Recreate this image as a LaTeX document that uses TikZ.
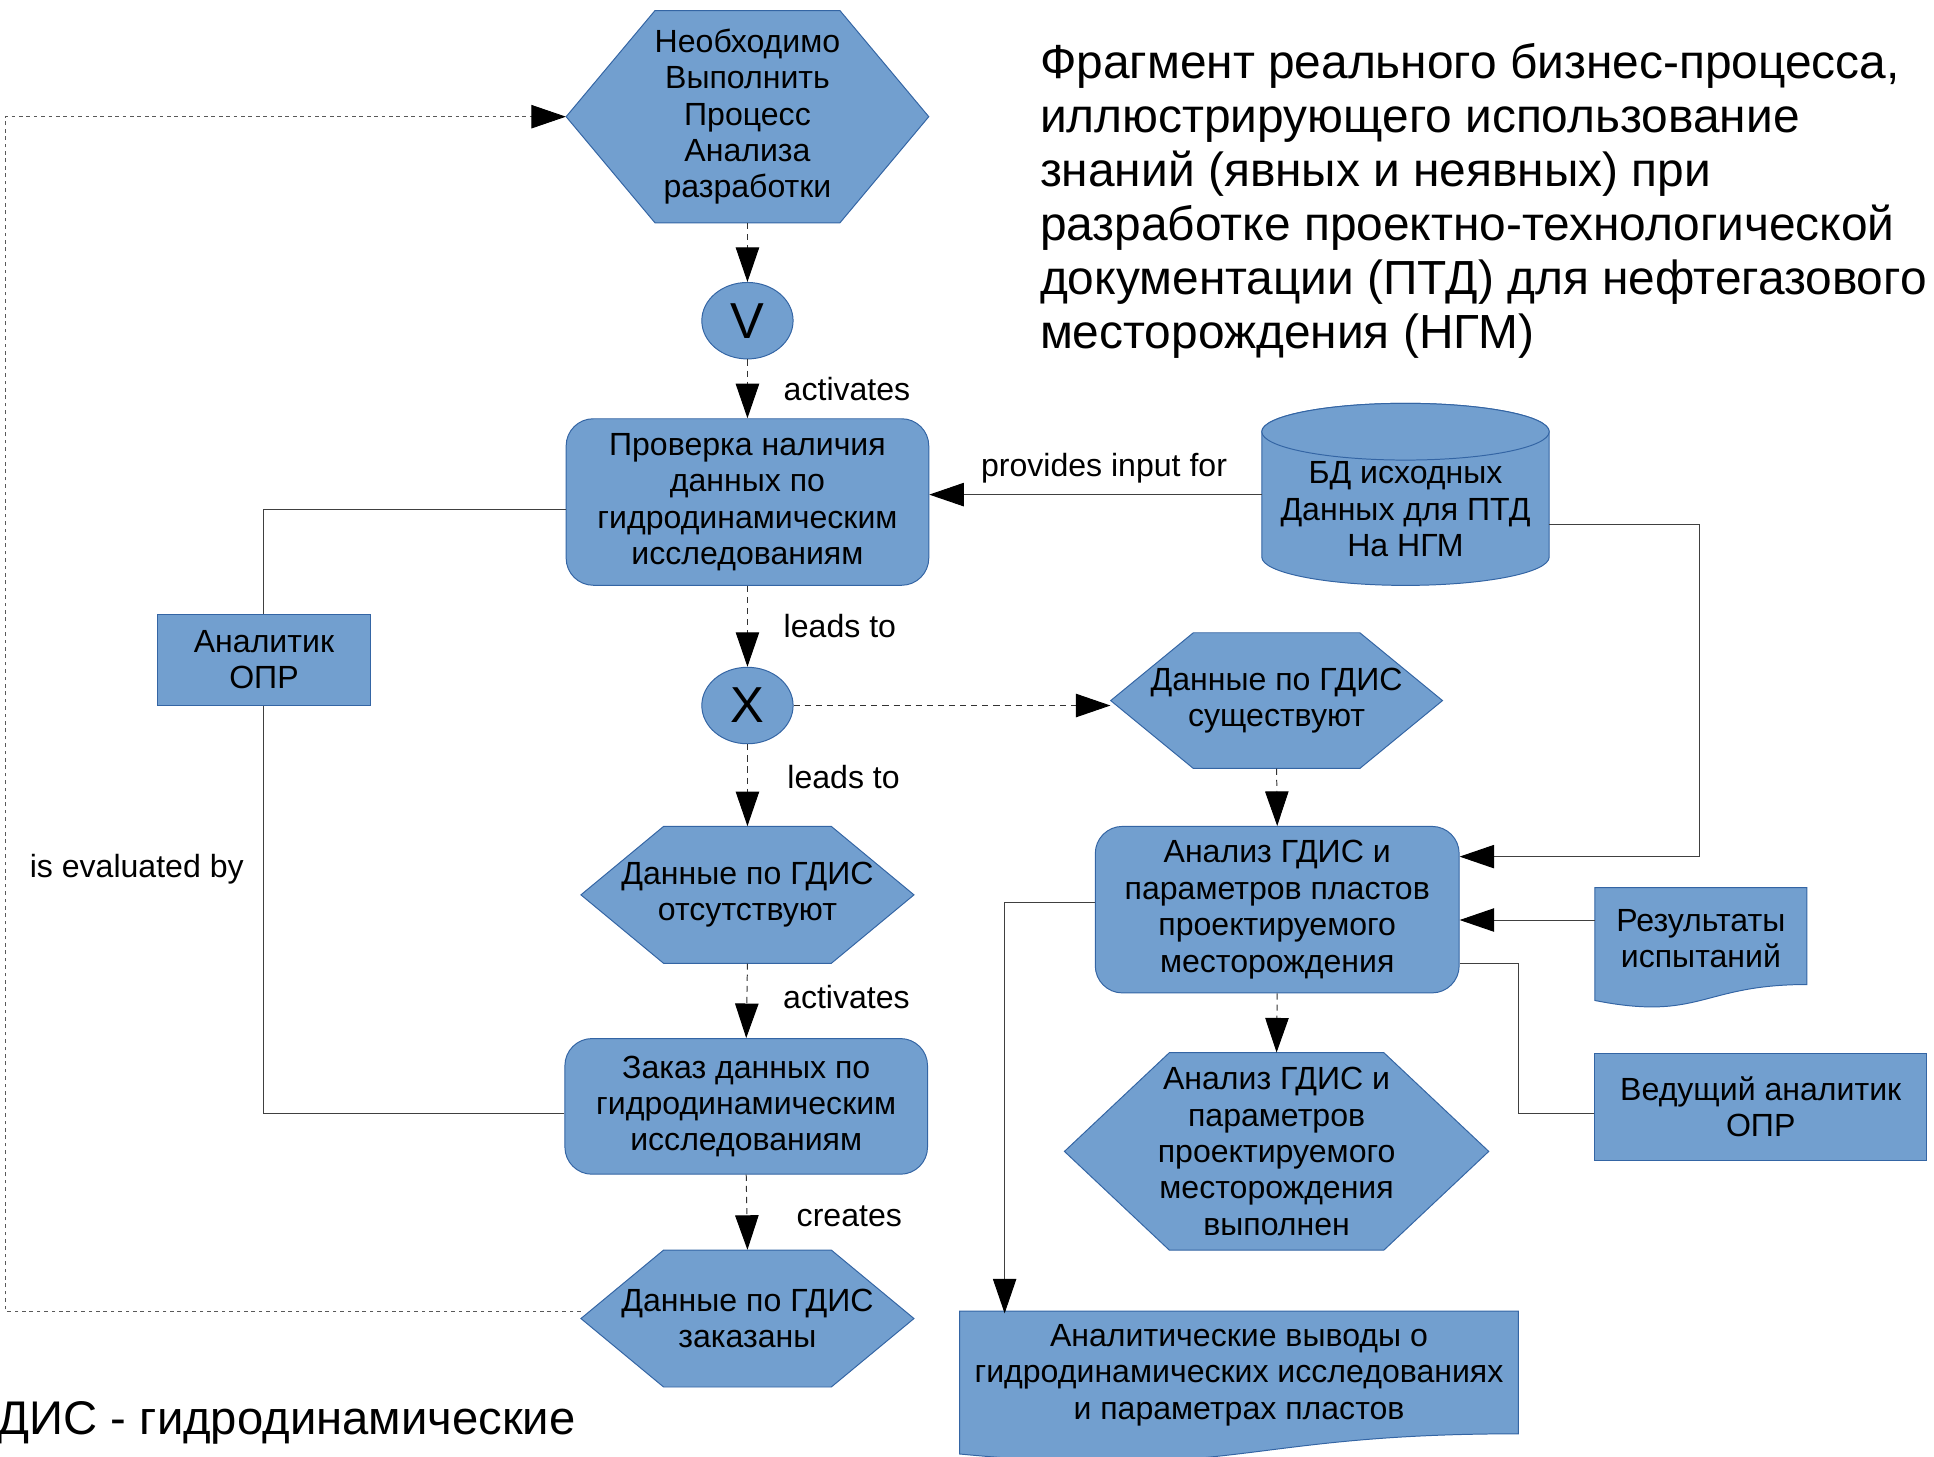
\documentclass[tikz,border=0pt]{standalone}
\usepackage{fontspec}
\setmainfont{Liberation Sans}
\usetikzlibrary{arrows.meta,shapes.geometric}
\definecolor{evfill}{HTML}{729FCF}
\definecolor{evline}{HTML}{3465A4}
\tikzstyle{shapebody}=[fill=evfill, draw=evline, line width=0.8pt]
\tikzstyle{txt}=[font=\fontsize{26}{29.5}\selectfont, align=center, inner sep=0pt]
\tikzstyle{procbox}=[shapebody, txt, rounded corners=22pt]
\tikzstyle{rolebox}=[shapebody, txt]
\tikzstyle{gate}=[shapebody, ellipse, inner sep=0pt, minimum width=74pt, minimum height=62pt, font=\fontsize{41}{41}\selectfont]
\tikzstyle{lbl}=[font=\fontsize{26}{29.5}\selectfont, inner sep=0pt]
\tikzstyle{flow}=[draw=black!80, line width=0.8pt, dash pattern=on 5pt off 4pt, -{Triangle[length=28pt,width=19pt,color=black]}]
\tikzstyle{link}=[draw=black!75, line width=0.8pt]
\tikzstyle{linkarrow}=[link, -{Triangle[length=28pt,width=19pt,color=black]}]
\tikzstyle{loopline}=[draw=black!65, line width=0.7pt, dash pattern=on 3pt off 3pt, -{Triangle[length=28pt,width=19pt,color=black]}]
% event hexagon: name, x, y, width, height, slant, text
\newcommand{\hexev}[7]{%
  \filldraw[shapebody] (#2-#4/2,#3) -- ++(#6,-#5/2) -- ++(#4-2*#6,0) -- ++(#6,#5/2)
    -- ++(-#6,#5/2) -- ++(-#4+2*#6,0) -- cycle;
  \node[txt, minimum width=#4pt, minimum height=#5pt] (#1) at (#2,#3) {#7};
}
% document shape: name, left x, top y, width, height, text
\newcommand{\docnode}[6]{%
  \filldraw[shapebody] (#2,#3) -- ++(#4,0) -- ++(0,0.802*#5)
    .. controls (#2+0.5*#4,#3+0.802*#5) and (#2+0.5*#4,#3+1.1075*#5) .. (#2,#3+0.934*#5) -- cycle;
  \node[txt, minimum width=#4pt, minimum height=0.802*#5pt] (#1) at (#2+#4/2,#3+0.401*#5+2) {#6};
}

\begin{document}
\begin{tikzpicture}[x=1pt, y=-1pt]
  \useasboundingbox (0,0) rectangle (1568,1181);

  % title
  \node[anchor=north west, align=left, inner sep=0pt, font=\fontsize{38.8}{43.8}\selectfont] (title) at (843,35)
    {Фрагмент реального бизнес-процесса,\\иллюстрирующего использование\\знаний (явных и неявных) при\\разработке проектно-технологической\\документации (ПТД) для нефтегазового\\месторождения (НГМ)};
  \node[anchor=west, inner sep=0pt, font=\fontsize{38.3}{43.8}\selectfont] (note) at (-2,1154) {ДИС - гидродинамические};

  % left column
  \hexev{need}{606}{94.6}{294}{172}{72}{Необходимо\\Выполнить\\Процесс\\Анализа\\разработки}
  \node[gate] (vgate) at (606,260) {V};
  \node[procbox, minimum width=294pt, minimum height=135pt] (check) at (606,407)
    {Проверка наличия\\данных по\\гидродинамическим\\исследованиям};
  \node[gate] (xgate) at (606,572) {X};
  \hexev{absent}{606}{725.5}{270}{111}{67}{Данные по ГДИС\\отсутствуют}
  \node[procbox, minimum width=294pt, minimum height=110pt] (order) at (605,897)
    {Заказ данных по\\гидродинамическим\\исследованиям};
  \hexev{ordered}{606}{1069}{270}{111}{67}{Данные по ГДИС\\заказаны}
  \node[rolebox, minimum width=172pt, minimum height=74pt] (analyst) at (214,535) {Аналитик\\ОПР};

  % data base
  \filldraw[shapebody] (1023,350) -- (1023,451.6)
    arc[start angle=180, end angle=360, x radius=116.5pt, y radius=23pt] -- (1256,350)
    arc[start angle=0, end angle=180, x radius=116.5pt, y radius=23pt] -- cycle;
  \draw[shapebody] (1139.5,350) ellipse [x radius=116.5pt, y radius=23pt];
  \node[txt, minimum width=233pt, minimum height=78pt] (bd) at (1139.5,413)
    {БД исходных\\Данных для ПТД\\На НГМ};

  % right column
  \hexev{exists}{1035}{568}{269}{110}{67}{Данные по ГДИС\\существуют}
  \node[procbox, minimum width=295pt, minimum height=135pt] (ana) at (1035.5,737.5)
    {Анализ ГДИС и\\параметров пластов\\проектируемого\\месторождения};
  \docnode{res}{1293}{719.6}{172}{98}{Результаты\\испытаний}
  \node[rolebox, minimum width=269pt, minimum height=86pt] (lead) at (1427.5,897.5) {Ведущий аналитик\\ОПР};
  \hexev{done}{1035}{933.5}{344}{160}{85}{Анализ ГДИС и\\параметров\\проектируемого\\месторождения\\выполнен}
  \docnode{concl}{778}{1063}{453}{124}{Аналитические выводы о\\гидродинамических исследованиях\\и параметрах пластов}

  % process flow
  \draw[flow] (need.south) -- (vgate.north);
  \draw[flow] (vgate.south) -- (check.north) node[lbl, midway, right=29pt] {activates};
  \draw[flow] (check.south) -- (xgate.north) node[lbl, midway, right=29pt] {leads to};
  \draw[flow] (xgate.south) -- (absent.north) node[lbl, pos=0.4, right=32pt] {leads to};
  \draw[flow] (absent.south) -- (order.north) node[lbl, pos=0.45, right=29pt] {activates};
  \draw[flow] (order.south) -- (ordered.north) node[lbl, pos=0.55, right=40pt] {creates};
  \draw[flow] (xgate.east) -- (xgate.east -| exists.west);
  \draw[flow] (exists.south) -- (ana.north);
  \draw[flow] (ana.south) -- (done.north);
  \draw[loopline] ([yshift=6pt]ordered.west) -- ++(-466.5,0) |- (need.west);

  % connections
  \draw[linkarrow] ([yshift=12pt]bd.west) -- ([yshift=12pt]bd.west -| check.east)
    node[lbl, midway, above=9pt, xshift=7pt] {provides input for};
  \draw[linkarrow] ([yshift=-12pt]bd.east) -- ++(122,0) |- ([yshift=43pt]ana.east);
  \draw[linkarrow] ([yshift=15pt]res.west) -- ([yshift=15pt]res.west -| ana.east);
  \draw[link] ([yshift=-43.5pt]ana.east) -- ++(48,0) |- ([yshift=-5.5pt]lead.west);
  \draw[linkarrow] ([yshift=5.5pt]ana.west) -| ([xshift=-190pt]concl.north);
  \draw[link] ([yshift=-6pt]check.west) -| (analyst.north);
  \draw[link] (analyst.south) |- ([yshift=-6pt]order.west)
    node[lbl, pos=0.2, left=16pt] {is evaluated by};
\end{tikzpicture}
\end{document}
